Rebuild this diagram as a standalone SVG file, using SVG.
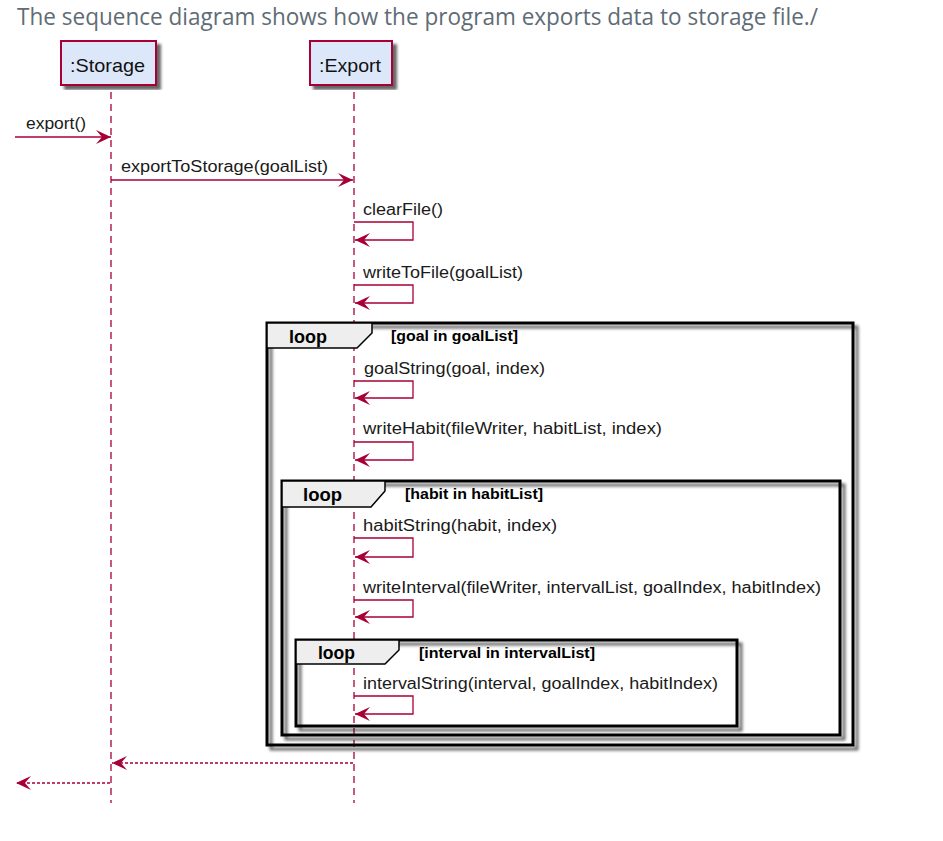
<svg xmlns="http://www.w3.org/2000/svg" width="943" height="841" viewBox="0 0 943 841">
<defs>
<style>
.title{font-family:"Open Sans","Liberation Sans",sans-serif;font-size:23px;fill:#5f6c75}
.pbox{fill:#DCE8FA;stroke:#A80036;stroke-width:2}
.ptxt{font-family:"Liberation Sans",Arial,sans-serif;font-size:19px;fill:#111}
.life{stroke:#A80036;stroke-width:1.3;stroke-dasharray:7,5;fill:none}
.msg{stroke:#A80036;stroke-width:1.3;fill:none;marker-end:url(#ah)}
.ret{stroke:#A80036;stroke-width:1.3;fill:none;stroke-dasharray:3,2;marker-end:url(#ah)}
.mtxt{font-family:"Liberation Sans",Arial,sans-serif;font-size:16px;fill:#1a1a1a}
.frame{fill:none;stroke:#000;stroke-width:3}
.tab{fill:#EEEEEE;stroke:#000;stroke-width:1.5}
.ltxt{font-family:"Liberation Sans",Arial,sans-serif;font-size:18px;font-weight:bold;fill:#000}
.ctxt{font-family:"Liberation Sans",Arial,sans-serif;font-size:14.5px;font-weight:bold;fill:#000}
</style>
<marker id="ah" markerUnits="userSpaceOnUse" markerWidth="18" markerHeight="16" refX="15" refY="7" orient="auto">
<path d="M0,0 L15,7 L0,14 L6,7 Z" fill="#A80036"/>
</marker>
<filter id="sh" x="-5%" y="-5%" width="115%" height="115%">
<feGaussianBlur in="SourceAlpha" stdDeviation="1.5"/>
<feOffset dx="4" dy="4" result="o"/>
<feComponentTransfer><feFuncA type="linear" slope="0.6"/></feComponentTransfer>
<feMerge><feMergeNode/><feMergeNode in="SourceGraphic"/></feMerge>
</filter>
</defs>
<rect width="943" height="841" fill="#fff"/>
<text class="title" x="17" y="25" textLength="801" lengthAdjust="spacingAndGlyphs">The sequence diagram shows how the program exports data to storage file./</text>

<g id="storage">
<line class="life" x1="111" y1="92" x2="111" y2="803"/>
<rect class="pbox" x="61" y="41" width="95" height="44" filter="url(#sh)"/>
<text class="ptxt" x="70" y="72" textLength="75" lengthAdjust="spacingAndGlyphs">:Storage</text>
</g>
<g id="export">
<line class="life" x1="354" y1="92" x2="354" y2="803"/>
<rect class="pbox" x="310" y="41" width="82" height="44" filter="url(#sh)"/>
<text class="ptxt" x="319" y="72" textLength="62" lengthAdjust="spacingAndGlyphs">:Export</text>
</g>

<g id="loop1">
<rect class="frame" x="267" y="323" width="586" height="422" filter="url(#sh)"/>
<polygon class="tab" points="267,323 372,323 372,333 357,348 267,348"/>
<text class="ltxt" x="289" y="343" textLength="38" lengthAdjust="spacingAndGlyphs">loop</text>
<text class="ctxt" x="391" y="341" textLength="127" lengthAdjust="spacingAndGlyphs">[goal in goalList]</text>
</g>
<g id="loop2">
<rect class="frame" x="282" y="481" width="558" height="254" filter="url(#sh)"/>
<polygon class="tab" points="282,481 385,481 385,491 371,507 282,507"/>
<text class="ltxt" x="303" y="501" textLength="39" lengthAdjust="spacingAndGlyphs">loop</text>
<text class="ctxt" x="405" y="499" textLength="138" lengthAdjust="spacingAndGlyphs">[habit in habitList]</text>
</g>
<g id="loop3">
<rect class="frame" x="296" y="640" width="441" height="86" filter="url(#sh)"/>
<polygon class="tab" points="296,640 399,640 399,650 385,664 296,664"/>
<text class="ltxt" x="318" y="659" textLength="37" lengthAdjust="spacingAndGlyphs">loop</text>
<text class="ctxt" x="419" y="658" textLength="176" lengthAdjust="spacingAndGlyphs">[interval in intervalList]</text>
</g>

<g id="connectors">
<path class="msg" d="M15,137 H111"/>
<text class="mtxt" x="26" y="129" textLength="60" lengthAdjust="spacingAndGlyphs">export()</text>
<path class="msg" d="M111,180 H353"/>
<text class="mtxt" x="121" y="172" textLength="207" lengthAdjust="spacingAndGlyphs">exportToStorage(goalList)</text>
<path class="msg" d="M354,222 H413 V240 H355"/>
<text class="mtxt" x="363" y="215" textLength="80" lengthAdjust="spacingAndGlyphs">clearFile()</text>
<path class="msg" d="M354,285 H413 V303 H355"/>
<text class="mtxt" x="363" y="278" textLength="160" lengthAdjust="spacingAndGlyphs">writeToFile(goalList)</text>
<path class="msg" d="M354,381 H413 V398 H355"/>
<text class="mtxt" x="364" y="374" textLength="181" lengthAdjust="spacingAndGlyphs">goalString(goal, index)</text>
<path class="msg" d="M354,442 H413 V460 H355"/>
<text class="mtxt" x="363" y="434" textLength="299" lengthAdjust="spacingAndGlyphs">writeHabit(fileWriter, habitList, index)</text>
<path class="msg" d="M354,538 H413 V557 H355"/>
<text class="mtxt" x="363" y="531" textLength="194" lengthAdjust="spacingAndGlyphs">habitString(habit, index)</text>
<path class="msg" d="M354,600 H413 V617 H355"/>
<text class="mtxt" x="363" y="593" textLength="458" lengthAdjust="spacingAndGlyphs">writeInterval(fileWriter, intervalList, goalIndex, habitIndex)</text>
<path class="msg" d="M354,696 H413 V714 H355"/>
<text class="mtxt" x="363" y="689" textLength="355" lengthAdjust="spacingAndGlyphs">intervalString(interval, goalIndex, habitIndex)</text>
<path class="ret" d="M353,763 H112"/>
<path class="ret" d="M110,783 H16"/>
</g>
</svg>
